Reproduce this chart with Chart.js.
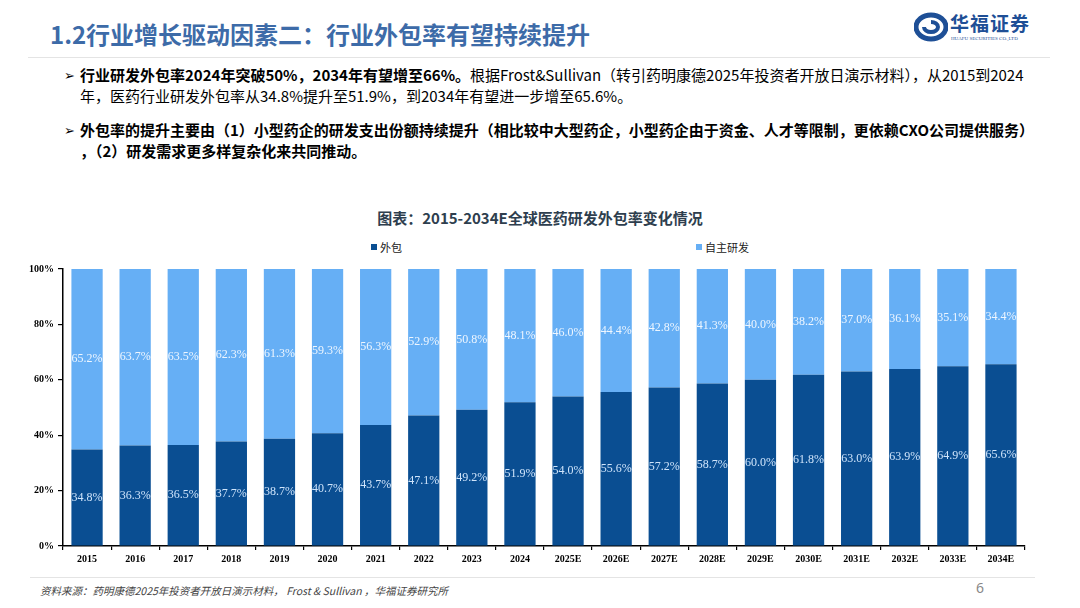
<!DOCTYPE html>
<html>
<head>
<meta charset="utf-8">
<script src="https://cdn.jsdelivr.net/npm/chart.js@4.4.1/dist/chart.umd.min.js"></script>
<style>
    body { margin: 0; width: 1080px; height: 608px; background: #fff; position: relative; overflow: hidden;
           font-family: "Noto Sans CJK SC", "Noto Sans", sans-serif; }
    .title { position: absolute; left: 50px; top: 16px; font-size: 24px; font-weight: 700; color: #3d6ba8; }
    .logo { position: absolute; left: 914px; top: 12px; }
    .logo-name { position: absolute; left: 36px; top: -3px; font-family: "Noto Sans CJK SC", serif; font-weight: 700; font-size: 19px; color: #1e4f96; white-space: nowrap; letter-spacing: 1px; }
    .logo-sub { position: absolute; left: 37px; top: 24px; font-family: "Liberation Serif", serif; font-size: 5px; color: #1e4f96; white-space: nowrap; }
    .hline { position: absolute; left: 28px; width: 1022px; height: 1px; background: #e4e4e4; }
    .bullet { position: absolute; left: 64px; font-size: 15px; color: #000; line-height: 21px; white-space: nowrap; }
    .bullet .mark { position: absolute; left: 0; top: 0; font-size: 13px; }
    .bullet .txt { position: absolute; left: 16px; }
    b { font-weight: 700; }
    .ctitle { position: absolute; left: 0; width: 1080px; top: 207px; text-align: center; font-size: 15px; font-weight: 700; color: #2e3e4e; }
    .legend { position: absolute; top: 239px; font-size: 11px; color: #222; white-space: nowrap; }
    .legend i { display: inline-block; width: 6px; height: 6px; margin-right: 3px; vertical-align: 2px; }
    #wrap { position: absolute; left: 0; top: 250px; width: 1080px; height: 325px; }
    .source { position: absolute; left: 40px; top: 583px; font-size: 10.5px; font-style: italic; color: #444; }
    .page { position: absolute; left: 976px; top: 578px; font-size: 14px; color: #888; font-family: "Noto Sans", sans-serif; }
</style>
</head>
<body>
<div class="title">1.2行业增长驱动因素二：行业外包率有望持续提升</div>
<div class="logo">
    <svg width="34" height="30" viewBox="0 0 34 30">
        <ellipse cx="17" cy="15" rx="15" ry="12" fill="none" stroke="#1e4f96" stroke-width="5"/>
        <path d="M10 15 a7 5 0 1 0 7 -5" fill="none" stroke="#1e4f96" stroke-width="4"/>
    </svg>
    <div class="logo-name">华福证券</div>
    <div class="logo-sub">HUAFU SECURITIES CO.,LTD</div>
</div>
<div class="hline" style="top:57px"></div>

<div class="bullet" style="top:64px">
    <span class="mark">➢</span>
    <div class="txt"><b>行业研发外包率2024年突破50%，2034年有望增至66%。</b>根据Frost&amp;Sullivan（转引药明康德2025年投资者开放日演示材料），从2015到2024<br>年，医药行业研发外包率从34.8%提升至51.9%，到2034年有望进一步增至65.6%。</div>
</div>
<div class="bullet" style="top:119px">
    <span class="mark">➢</span>
    <div class="txt"><b>外包率的提升主要由（1）小型药企的研发支出份额持续提升（相比较中大型药企，小型药企由于资金、人才等限制，更依赖CXO公司提供服务）<br>，（2）研发需求更多样复杂化来共同推动。</b></div>
</div>

<div class="ctitle">图表：2015-2034E全球医药研发外包率变化情况</div>
<div id="legend"></div>
<div id="wrap"><canvas id="chart"></canvas></div>
<div class="hline" style="top:577px; left:30px; width:1005px;"></div>
<div class="source">资料来源：药明康德2025年投资者开放日演示材料， Frost &amp; Sullivan ，华福证券研究所</div>
<div class="page">6</div>

<script>
const years = ['2015', '2016', '2017', '2018', '2019', '2020', '2021', '2022', '2023', '2024',
    '2025E', '2026E', '2027E', '2028E', '2029E', '2030E', '2031E', '2032E', '2033E', '2034E'];
const outsourced = [34.8, 36.3, 36.5, 37.7, 38.7, 40.7, 43.7, 47.1, 49.2, 51.9,
    54.0, 55.6, 57.2, 58.7, 60.0, 61.8, 63.0, 63.9, 64.9, 65.6];
const inHouse = [65.2, 63.7, 63.5, 62.3, 61.3, 59.3, 56.3, 52.9, 50.8, 48.1,
    46.0, 44.4, 42.8, 41.3, 40.0, 38.2, 37.0, 36.1, 35.1, 34.4];
const seriesNames = ['外包', '自主研发'];
const seriesColors = ['#0a4e92', '#66aff5'];
const labelColors = ['#cfe4fb', '#eef6ff'];
const yTicks = [0, 20, 40, 60, 80, 100];

// 图例 (两项分开摆放)
const legendLeft = [371, 696];
document.getElementById('legend').innerHTML = seriesNames.map((name, i) =>
    `<div class="legend" style="left:${legendLeft[i]}px"><i style="background:${seriesColors[i]}"></i>${name}</div>`
).join('');

// 柱内数值标签
const valueLabels = {
    id: 'valueLabels',
    afterDatasetsDraw(chart) {
        const ctx = chart.ctx;
        ctx.save();
        ctx.font = '12px "Liberation Serif", serif';
        ctx.textAlign = 'center';
        ctx.textBaseline = 'middle';
        chart.data.datasets.forEach((ds, di) => {
            chart.getDatasetMeta(di).data.forEach((bar, i) => {
                const c = bar.getCenterPoint();
                ctx.fillStyle = labelColors[di];
                ctx.fillText(ds.data[i].toFixed(1) + '%', c.x, c.y);
            });
        });
        ctx.restore();
    }
};

new Chart(document.getElementById('chart'), {
    type: 'bar',
    data: {
        labels: years,
        datasets: [
            { label: seriesNames[0], data: outsourced, backgroundColor: seriesColors[0] },
            { label: seriesNames[1], data: inHouse, backgroundColor: seriesColors[1] }
        ]
    },
    options: {
        responsive: true,
        maintainAspectRatio: false,
        animation: false,
        layout: { padding: { left: 20, right: 55, top: 19, bottom: 4 } },
        datasets: { bar: { categoryPercentage: 1, barPercentage: 0.65 } },
        plugins: { legend: { display: false }, tooltip: { enabled: false } },
        scales: {
            x: {
                stacked: true,
                afterFit(scale) { scale.height = 25; },
                border: { display: true, color: '#000', width: 1.5 },
                grid: { drawOnChartArea: false, tickLength: 4, color: '#000', lineWidth: 1.2 },
                ticks: { color: '#000', padding: 3, font: { family: 'Liberation Serif', weight: 'bold', size: 10 } }
            },
            y: {
                stacked: true,
                min: 0,
                max: 100,
                afterFit(scale) { scale.width = 43; },
                afterBuildTicks(scale) { scale.ticks = yTicks.map(v => ({ value: v })); },
                border: { display: true, color: '#000', width: 1.5 },
                grid: { drawOnChartArea: false, tickLength: 5, color: '#000', lineWidth: 1.2 },
                ticks: { color: '#000', padding: 4, callback: v => v + '%', font: { family: 'Liberation Serif', weight: 'bold', size: 10 } }
            }
        }
    },
    plugins: [valueLabels]
});
</script>
</body>
</html>
